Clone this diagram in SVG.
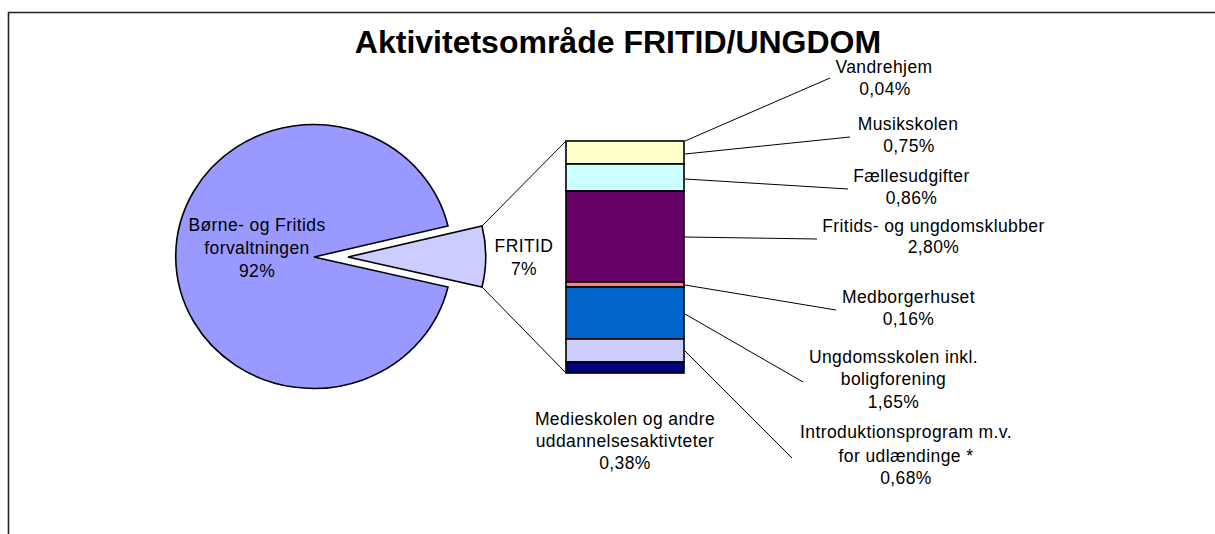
<svg xmlns="http://www.w3.org/2000/svg" width="1215" height="534" viewBox="0 0 1215 534">
<style>
.t{font-family:"Liberation Sans",Arial,sans-serif;font-size:17.5px;letter-spacing:0.4px;fill:#000;text-anchor:middle}
.title{font-family:"Liberation Sans",Arial,sans-serif;font-size:32px;font-weight:bold;fill:#000;text-anchor:middle}
.seg{stroke:#000;stroke-width:1.6}
.lead{stroke:#000;stroke-width:1;fill:none}
</style>
<rect width="1215" height="534" fill="#fff"/>
<path d="M8.5,534 V12.5 H1215" fill="none" stroke="#222" stroke-width="1.6"/>
<text class="title" x="618" y="52.5">Aktivitetsområde FRITID/UNGDOM</text>

<g id="pie-main">
<path d="M314,257 L448,226 A138,132 0 1,0 448,287 Z" fill="#9999FF" stroke="#000" stroke-width="1.6"/>
<text class="t" x="257" y="230.5">Børne- og Fritids</text>
<text class="t" x="257" y="254">forvaltningen</text>
<text class="t" x="257" y="276.5">92%</text>
</g>

<g id="pie-fritid">
<path d="M348,257 L482,226 A138,132 0 0,1 482,287 Z" fill="#CCCCFF" stroke="#000" stroke-width="1.6"/>
<text class="t" x="524" y="251.5">FRITID</text>
<text class="t" x="524" y="274.5">7%</text>
</g>

<g id="bar">
<rect class="seg" x="566" y="141" width="118" height="23" fill="#FFFFCC"/>
<rect class="seg" x="566" y="164" width="118" height="27" fill="#CCFFFF"/>
<rect class="seg" x="566" y="191" width="118" height="91" fill="#660066"/>
<rect class="seg" x="566" y="282" width="118" height="5" fill="#FF8080"/>
<rect class="seg" x="566" y="287" width="118" height="52" fill="#0066CC"/>
<rect class="seg" x="566" y="339" width="118" height="23" fill="#CCCCFF"/>
<rect class="seg" x="566" y="362" width="118" height="11" fill="#000080"/>
</g>

<g id="connectors">
<line class="lead" x1="482" y1="226" x2="566" y2="141"/>
<line class="lead" x1="482" y1="287" x2="566" y2="373"/>
<line class="lead" x1="685" y1="141" x2="830" y2="78"/>
<line class="lead" x1="685" y1="154" x2="850" y2="137"/>
<line class="lead" x1="685" y1="179" x2="848" y2="189"/>
<line class="lead" x1="685" y1="237" x2="817" y2="239"/>
<line class="lead" x1="685" y1="285" x2="836" y2="310"/>
<line class="lead" x1="685" y1="314" x2="803" y2="382"/>
<line class="lead" x1="685" y1="351" x2="792" y2="458"/>
</g>

<g id="label-vandrehjem">
<text class="t" x="884" y="72.5">Vandrehjem</text>
<text class="t" x="885" y="95">0,04%</text>
</g>
<g id="label-musikskolen">
<text class="t" x="908" y="130">Musikskolen</text>
<text class="t" x="909" y="151.5">0,75%</text>
</g>
<g id="label-faellesudgifter">
<text class="t" x="911.5" y="181.5">Fællesudgifter</text>
<text class="t" x="911.5" y="204">0,86%</text>
</g>
<g id="label-fritidsklubber">
<text class="t" x="933.5" y="231.5">Fritids- og ungdomsklubber</text>
<text class="t" x="933.5" y="253">2,80%</text>
</g>
<g id="label-medborgerhuset">
<text class="t" x="908.5" y="303">Medborgerhuset</text>
<text class="t" x="908.5" y="325">0,16%</text>
</g>
<g id="label-ungdomsskolen">
<text class="t" x="893.5" y="363">Ungdomsskolen inkl.</text>
<text class="t" x="893.5" y="385">boligforening</text>
<text class="t" x="893.5" y="407.5">1,65%</text>
</g>
<g id="label-introduktion">
<text class="t" x="906" y="438">Introduktionsprogram m.v.</text>
<text class="t" x="906" y="461.5">for udlændinge *</text>
<text class="t" x="906" y="484">0,68%</text>
</g>
<g id="label-medieskolen">
<text class="t" x="625" y="425">Medieskolen og andre</text>
<text class="t" x="625" y="446.5">uddannelsesaktivteter</text>
<text class="t" x="625" y="469">0,38%</text>
</g>
</svg>
